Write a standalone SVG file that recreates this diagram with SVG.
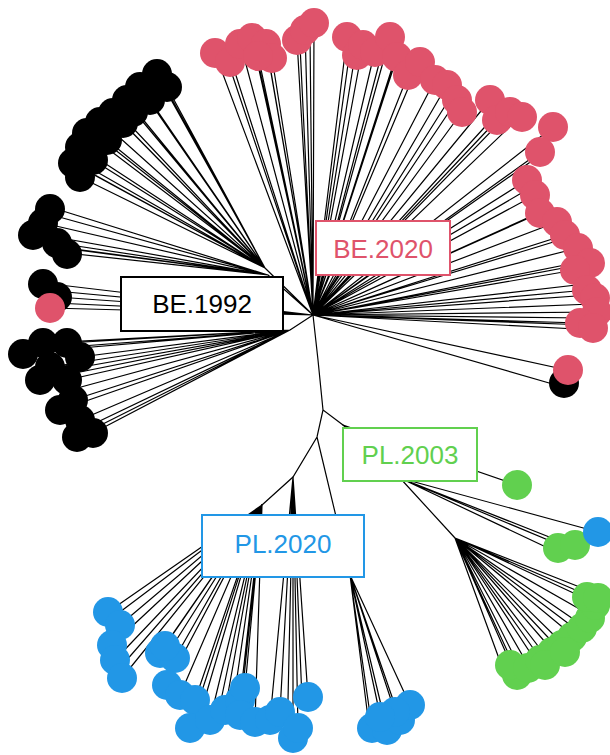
<svg xmlns="http://www.w3.org/2000/svg" width="610" height="755" viewBox="0 0 610 755">
<style>
.e{fill:none;stroke:#000;stroke-width:1.2;stroke-linecap:round}
.k{fill:#000}.r{fill:#DF536B}.g{fill:#61D04F}.b{fill:#2297E6}
.box{fill:#fff;stroke-width:2}
.t{font-family:"Liberation Sans",Arial,sans-serif;font-size:26px;text-anchor:middle}
</style>
<rect width="610" height="755" fill="#fff"/>
<g id="connectors">
<!-- backbone -->
<path class="e" d="M313 315L318 360L323 410L343 425M323 410L317 437L293 477L262 505M317 437L350 575"/>
<!-- BE.1992 -->
<path class="e" d="M313 315L265 268M313 315L268 275M313 315L290 330
M265 268L157 72M265 268L160 80M265 268L167 87M265 268L140 87M265 268L127 100M265 268L113 113M265 268L116 110M265 268L100 120M265 268L87 133M265 268L90 130M265 268L80 147M265 268L73 163M265 268L76 160M265 268L80 177M265 268L93 160M265 268L107 140M265 268L123 123M265 268L150 100M265 268L133 110M265 268L145 95M265 268L85 170
M268 275L50 207M268 275L33 233M268 275L43 223M268 275L67 253M268 275L57 243M268 275L30 243M268 275L52 215M268 275L62 248
M313 315L43 283M313 315L57 297M313 315L50 308M313 315L45 290M313 315L55 303
M290 330L23 353M290 330L43 343M290 330L67 343M290 330L50 367M290 330L40 380M290 330L67 380M290 330L73 400M290 330L60 410M290 330L80 420M290 330L93 433M290 330L77 437M290 330L80 357M290 330L70 390M290 330L85 428M290 330L65 370M290 330L30 350"/>
<!-- BE.2020 -->
<path class="e" d="M313 315L215 53M313 315L228 62M313 315L231 60M313 315L240 42M313 315L252 38M313 315L255 48M313 315L266 44M313 315L272 58M313 315L269 60M313 315L258 55
M313 315L297 40M313 315L300 45M313 315L305 30M313 315L314 22M313 315L310 35
M313 315L347 37M313 315L355 55M313 315L350 50M313 315L363 45M313 315L375 50M313 315L380 60M313 315L390 37M313 315L397 57M313 315L393 65M313 315L408 75M313 315L420 60M313 315L435 80M313 315L447 85M313 315L452 95M313 315L457 100M313 315L462 112M313 315L490 100M313 315L497 120M313 315L493 118M313 315L510 112M313 315L522 115
M313 315L553 127M313 315L540 152M313 315L536 158M313 315L527 180M313 315L535 195M313 315L530 188M313 315L540 213M313 315L545 210M313 315L557 222M313 315L565 235M313 315L560 240M313 315L578 248M313 315L590 263M313 315L575 270M313 315L580 262M313 315L587 290M313 315L585 284M313 315L590 295M313 315L597 312M313 315L592 304M313 315L580 323M313 315L585 318M313 315L595 330M313 315L588 325M313 315L567 370M313 315L563 387"/>
<!-- PL.2003 -->
<path class="e" d="M343 425L517 485M343 425L400 478M400 478L598 532M400 478L560 545M400 478L577 548M400 478L548 548M400 478L455 538
M455 538L517 672M455 538L510 662M455 538L505 675M455 538L528 665M455 538L540 658M455 538L552 650M455 538L562 643M455 538L572 635M455 538L582 625M455 538L590 615M455 538L595 603M455 538L587 595M455 538L600 595M455 538L535 660M455 538L558 648M455 538L577 630M455 538L545 655M455 538L520 668"/>
<!-- PL.2020 -->
<path class="e" d="M262 505L108 612M262 505L112 618M262 505L120 625M262 505L112 645M262 505L115 660M262 505L122 678M262 505L118 670M262 505L160 653M262 505L175 658M262 505L165 645M262 505L170 650
M262 505L167 685M262 505L180 695M262 505L195 700M262 505L190 728M262 505L210 720M262 505L225 710M262 505L220 705M262 505L240 700M262 505L245 688M262 505L240 715M262 505L255 722M262 505L232 712M262 505L200 715
M293 477L270 720M293 477L280 712M293 477L293 738M293 477L308 697M293 477L298 728M293 477L288 700M293 477L302 700
M350 575L372 728M350 575L387 730M350 575L400 720M350 575L410 705M350 575L395 712M350 575L380 715M350 575L368 718"/>
</g>
<g id="BE1992-leaves" class="k">
<circle cx="157" cy="74" r="15"/><circle cx="167" cy="87" r="15"/><circle cx="140" cy="87" r="15"/><circle cx="150" cy="100" r="15"/><circle cx="127" cy="100" r="15"/><circle cx="133" cy="112" r="15"/><circle cx="113" cy="113" r="15"/><circle cx="123" cy="123" r="15"/><circle cx="100" cy="122" r="15"/><circle cx="107" cy="140" r="15"/><circle cx="87" cy="133" r="15"/><circle cx="80" cy="147" r="15"/><circle cx="93" cy="160" r="15"/><circle cx="73" cy="163" r="15"/><circle cx="80" cy="177" r="15"/>
<circle cx="50" cy="209" r="15"/><circle cx="43" cy="223" r="15"/><circle cx="33" cy="235" r="15"/><circle cx="57" cy="243" r="15"/><circle cx="67" cy="254" r="15"/>
<circle cx="43" cy="284" r="15"/><circle cx="57" cy="297" r="15"/>
<circle cx="23" cy="354" r="15"/><circle cx="43" cy="343" r="15"/><circle cx="67" cy="343" r="15"/><circle cx="80" cy="357" r="15"/><circle cx="50" cy="367" r="15"/><circle cx="40" cy="380" r="15"/><circle cx="67" cy="380" r="15"/><circle cx="73" cy="400" r="15"/><circle cx="60" cy="410" r="15"/><circle cx="80" cy="420" r="15"/><circle cx="93" cy="433" r="15"/><circle cx="77" cy="437" r="15"/>
<circle cx="564" cy="383" r="15"/>
</g>
<g id="BE2020-leaves" class="r">
<circle cx="50" cy="308" r="15"/>
<circle cx="215" cy="53" r="15"/><circle cx="230" cy="62" r="15"/><circle cx="240" cy="44" r="15"/><circle cx="252" cy="38" r="15"/><circle cx="266" cy="44" r="15"/><circle cx="272" cy="58" r="15"/><circle cx="258" cy="56" r="15"/>
<circle cx="297" cy="40" r="15"/><circle cx="305" cy="30" r="15"/><circle cx="314" cy="23" r="15"/>
<circle cx="347" cy="37" r="15"/><circle cx="357" cy="55" r="15"/><circle cx="363" cy="45" r="15"/><circle cx="375" cy="52" r="15"/><circle cx="390" cy="37" r="15"/><circle cx="397" cy="57" r="15"/><circle cx="408" cy="75" r="15"/><circle cx="420" cy="62" r="15"/><circle cx="435" cy="80" r="15"/><circle cx="447" cy="85" r="15"/><circle cx="457" cy="100" r="15"/><circle cx="462" cy="112" r="15"/><circle cx="490" cy="100" r="15"/><circle cx="497" cy="120" r="15"/><circle cx="510" cy="112" r="15"/><circle cx="522" cy="117" r="15"/>
<circle cx="553" cy="127" r="15"/><circle cx="540" cy="152" r="15"/><circle cx="527" cy="180" r="15"/><circle cx="535" cy="195" r="15"/><circle cx="540" cy="213" r="15"/><circle cx="557" cy="222" r="15"/><circle cx="565" cy="235" r="15"/><circle cx="578" cy="248" r="15"/><circle cx="590" cy="263" r="15"/><circle cx="575" cy="270" r="15"/><circle cx="587" cy="290" r="15"/><circle cx="595" cy="298" r="15"/><circle cx="597" cy="312" r="15"/><circle cx="580" cy="323" r="15"/><circle cx="593" cy="328" r="15"/>
<circle cx="568" cy="370" r="15"/>
</g>
<g id="PL2003-leaves" class="g">
<circle cx="517" cy="485" r="15"/><circle cx="558" cy="548" r="15"/><circle cx="575" cy="545" r="15"/>
<circle cx="517" cy="675" r="15"/><circle cx="510" cy="665" r="15"/><circle cx="528" cy="668" r="15"/><circle cx="540" cy="660" r="15"/><circle cx="552" cy="652" r="15"/><circle cx="562" cy="645" r="15"/><circle cx="572" cy="637" r="15"/><circle cx="582" cy="628" r="15"/><circle cx="590" cy="618" r="15"/><circle cx="595" cy="605" r="15"/><circle cx="587" cy="597" r="15"/><circle cx="598" cy="598" r="15"/><circle cx="545" cy="665" r="15"/><circle cx="565" cy="652" r="15"/>
</g>
<g id="PL2020-leaves" class="b">
<circle cx="598" cy="532" r="15"/>
<circle cx="108" cy="612" r="15"/><circle cx="120" cy="625" r="15"/><circle cx="112" cy="645" r="15"/><circle cx="115" cy="660" r="15"/><circle cx="122" cy="678" r="15"/><circle cx="160" cy="653" r="15"/><circle cx="175" cy="658" r="15"/><circle cx="165" cy="646" r="15"/>
<circle cx="167" cy="685" r="15"/><circle cx="180" cy="695" r="15"/><circle cx="195" cy="700" r="15"/><circle cx="190" cy="728" r="15"/><circle cx="210" cy="720" r="15"/><circle cx="225" cy="710" r="15"/><circle cx="240" cy="700" r="15"/><circle cx="245" cy="688" r="15"/><circle cx="240" cy="715" r="15"/><circle cx="255" cy="722" r="15"/><circle cx="270" cy="720" r="15"/><circle cx="280" cy="712" r="15"/><circle cx="293" cy="738" r="15"/><circle cx="298" cy="728" r="15"/><circle cx="308" cy="697" r="15"/>
<circle cx="372" cy="728" r="15"/><circle cx="387" cy="730" r="15"/><circle cx="400" cy="720" r="15"/><circle cx="410" cy="705" r="15"/><circle cx="395" cy="712" r="15"/><circle cx="380" cy="717" r="15"/>
</g>
<g id="label-BE1992"><rect class="box" x="121" y="277" width="162" height="54" stroke="#000"/><text class="t" x="202" y="313" fill="#000">BE.1992</text></g>
<g id="label-BE2020"><rect class="box" x="316" y="221" width="134" height="54" stroke="#DF536B"/><text class="t" x="383" y="258" fill="#DF536B">BE.2020</text></g>
<g id="label-PL2003"><rect class="box" x="343" y="428" width="134" height="53" stroke="#61D04F"/><text class="t" x="410" y="464" fill="#61D04F">PL.2003</text></g>
<g id="label-PL2020"><rect class="box" x="202" y="515" width="162" height="62" stroke="#2297E6"/><text class="t" x="283" y="553" fill="#2297E6">PL.2020</text></g>
</svg>
